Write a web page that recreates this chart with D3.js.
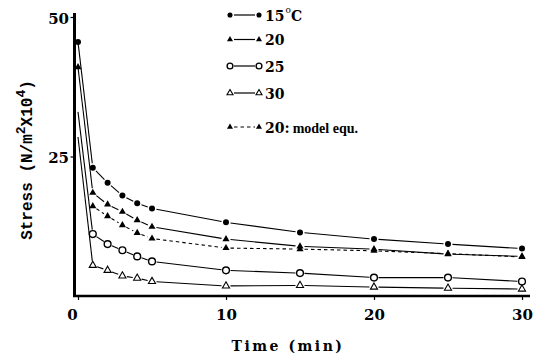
<!DOCTYPE html>
<html><head><meta charset="utf-8">
<script src="https://cdn.jsdelivr.net/npm/d3@7/dist/d3.min.js"></script>
<style>
body{margin:0;background:#fff;}
svg{display:block;}
</style></head>
<body><svg id="c" width="533" height="358"></svg>
<script>
const times = [0, 1, 2, 3, 4, 5, 10, 15, 20, 25, 30];
const s15 = [45.5, 23.0, 20.3, 18.0, 16.6, 15.7, 13.2, 11.4, 10.2, 9.3, 8.5];
const s20 = [41.0, 18.5, 16.4, 15.1, 13.6, 12.4, 10.2, 8.9, 8.4, 7.5, 7.1];
const s25 = [33.0, 11.1, 9.3, 8.2, 7.1, 6.2, 4.6, 4.1, 3.3, 3.3, 2.6];
const s30 = [28.5, 5.5, 4.6, 3.6, 3.2, 2.6, 1.8, 1.9, 1.6, 1.4, 1.25];
const modelTimes = [1, 2, 3, 4, 5, 10, 15, 20, 25, 30];
const sModel = [16.1, 14.3, 12.7, 11.3, 10.3, 8.6, 8.4, 8.1, 7.6, 7.0];
const xTicks = [0, 10, 20, 30];
const yTicks = [25, 50];
const legendLabels = ["15", "20", "25", "30", "20:"];

const series = [
  {t: times, v: s15, marker: "fcircle", dash: null, label: legendLabels[0]},
  {t: times, v: s20, marker: "ftri", dash: null, label: legendLabels[1]},
  {t: times, v: s25, marker: "ocircle", dash: null, label: legendLabels[2]},
  {t: times, v: s30, marker: "otri", dash: null, label: legendLabels[3]},
  {t: modelTimes, v: sModel, marker: "ftri", dash: "3.5,3", label: legendLabels[4]}
];

const svg = d3.select("#c");
const x = d3.scaleLinear().domain([0, 30]).range([78, 522]);
const y = d3.scaleLinear().domain([0, 50]).range([296, 17]);

// axes
const xAxis = d3.axisBottom(x).tickValues(xTicks).tickSize(4).tickSizeOuter(0).tickFormat(d3.format("d"));
const gx = svg.append("g").attr("transform", "translate(0,296)").call(xAxis);
gx.select(".domain").attr("d", "M73,0H530").attr("stroke", "#000").attr("stroke-width", 2.5);
gx.selectAll(".tick line").attr("stroke", "#000").attr("stroke-width", 1.2);
gx.selectAll(".tick text").attr("font-family", "DejaVu Serif").attr("font-weight", "bold")
  .attr("font-size", 15).attr("fill", "#000").attr("dy", "1.15em")
  .attr("dx", d => d === 0 ? -6 : 0);

const yAxis = d3.axisLeft(y).tickValues(yTicks).tickSize(4).tickSizeOuter(0);
const gy = svg.append("g").attr("transform", "translate(74.5,0)").call(yAxis);
gy.select(".domain").attr("d", "M0,297V13").attr("stroke", "#000").attr("stroke-width", 3);
gy.selectAll(".tick line").attr("stroke", "#000").attr("stroke-width", 1.2);
gy.selectAll(".tick text").attr("font-family", "DejaVu Serif").attr("font-weight", "bold")
  .attr("font-size", 15).attr("fill", "#000").attr("dx", "0.1em").attr("dy", "0.4em");

// marker drawing
function drawMarker(g, type, px, py, scale) {
  const s = scale || 1;
  if (type === "fcircle") {
    g.append("circle").attr("cx", px).attr("cy", py).attr("r", 3 * s).attr("fill", "#000");
  } else if (type === "ocircle") {
    g.append("circle").attr("cx", px).attr("cy", py).attr("r", 3.4 * s)
      .attr("fill", "#fff").attr("stroke", "#000").attr("stroke-width", 1.4);
  } else if (type === "ftri") {
    g.append("path").attr("d", d3.symbol(d3.symbolTriangle, 22 * s * s)())
      .attr("transform", `translate(${px},${py})`).attr("fill", "#000");
  } else if (type === "otri") {
    g.append("path").attr("d", d3.symbol(d3.symbolTriangle, 22 * s * s)())
      .attr("transform", `translate(${px},${py})`).attr("fill", "#fff")
      .attr("stroke", "#000").attr("stroke-width", 1.1);
  }
}

// series lines with small gaps at markers
const plot = svg.append("g");
series.forEach(s => {
  const pts = s.t.map((t, i) => [x(t), y(s.v[i])]);
  const g = plot.append("g");
  for (let i = 0; i < pts.length - 1; i++) {
    const [x1, y1] = pts[i], [x2, y2] = pts[i + 1];
    const dx = x2 - x1, dy = y2 - y1, L = Math.hypot(dx, dy);
    const g1 = i === 0 && s.t[0] === 0 ? 0 : 4.5, g2 = 4.5;
    g.append("line")
      .attr("x1", x1 + dx / L * g1).attr("y1", y1 + dy / L * g1)
      .attr("x2", x2 - dx / L * g2).attr("y2", y2 - dy / L * g2)
      .attr("stroke", "#000").attr("stroke-width", 1.1)
      .attr("stroke-dasharray", s.dash);
  }
  pts.forEach((p, i) => {
    if (s.t[i] === 0 && (s.marker === "ocircle" || s.marker === "otri")) return;
    drawMarker(g, s.marker, p[0], p[1]);
  });
});

// legend
const legY = [15, 39.5, 66, 93, 127];
const lg = svg.append("g");
series.forEach((s, i) => {
  const yy = legY[i];
  lg.append("line").attr("x1", 234).attr("x2", 255).attr("y1", yy).attr("y2", yy)
    .attr("stroke", "#000").attr("stroke-width", 1.2).attr("stroke-dasharray", s.dash);
  drawMarker(lg, s.marker, 230, yy, 0.85);
  drawMarker(lg, s.marker, 259, yy, 0.85);
  const tx = lg.append("text").attr("x", 265).attr("y", yy + 5.5)
    .attr("font-family", "DejaVu Serif").attr("font-weight", "bold").attr("font-size", 14)
    .attr("fill", "#000").text(s.label);
  if (i === 0) {
    tx.append("tspan").attr("font-size", 9).attr("font-weight", "normal").attr("dy", -8).attr("dx", 1).text("o");
    tx.append("tspan").attr("dy", 8).attr("dx", 0).text("C");
  }
  if (i === 4) {
    tx.append("tspan").attr("font-family", "Liberation Serif").attr("font-size", 14)
      .attr("dx", 3).text("model equ.");
  }
});

// axis titles
svg.append("text").attr("x", 288).attr("y", 351).attr("text-anchor", "middle")
  .attr("font-family", "DejaVu Serif").attr("font-weight", "bold").attr("font-size", 14)
  .attr("letter-spacing", 2.5).attr("fill", "#000").text("Time (min)");

const yt = svg.append("text").attr("transform", "translate(32,160) rotate(-90)")
  .attr("text-anchor", "middle").attr("font-family", "Liberation Mono").attr("font-weight", "bold")
  .attr("font-size", 16).attr("fill", "#000");
yt.append("tspan").text("Stress (N/m");
yt.append("tspan").attr("font-size", 13).attr("dy", -7).text("2");
yt.append("tspan").attr("dy", 7).text("X10");
yt.append("tspan").attr("font-size", 13).attr("dy", -7).text("4");
yt.append("tspan").attr("dy", 7).text(")");
</script>
</body></html>
